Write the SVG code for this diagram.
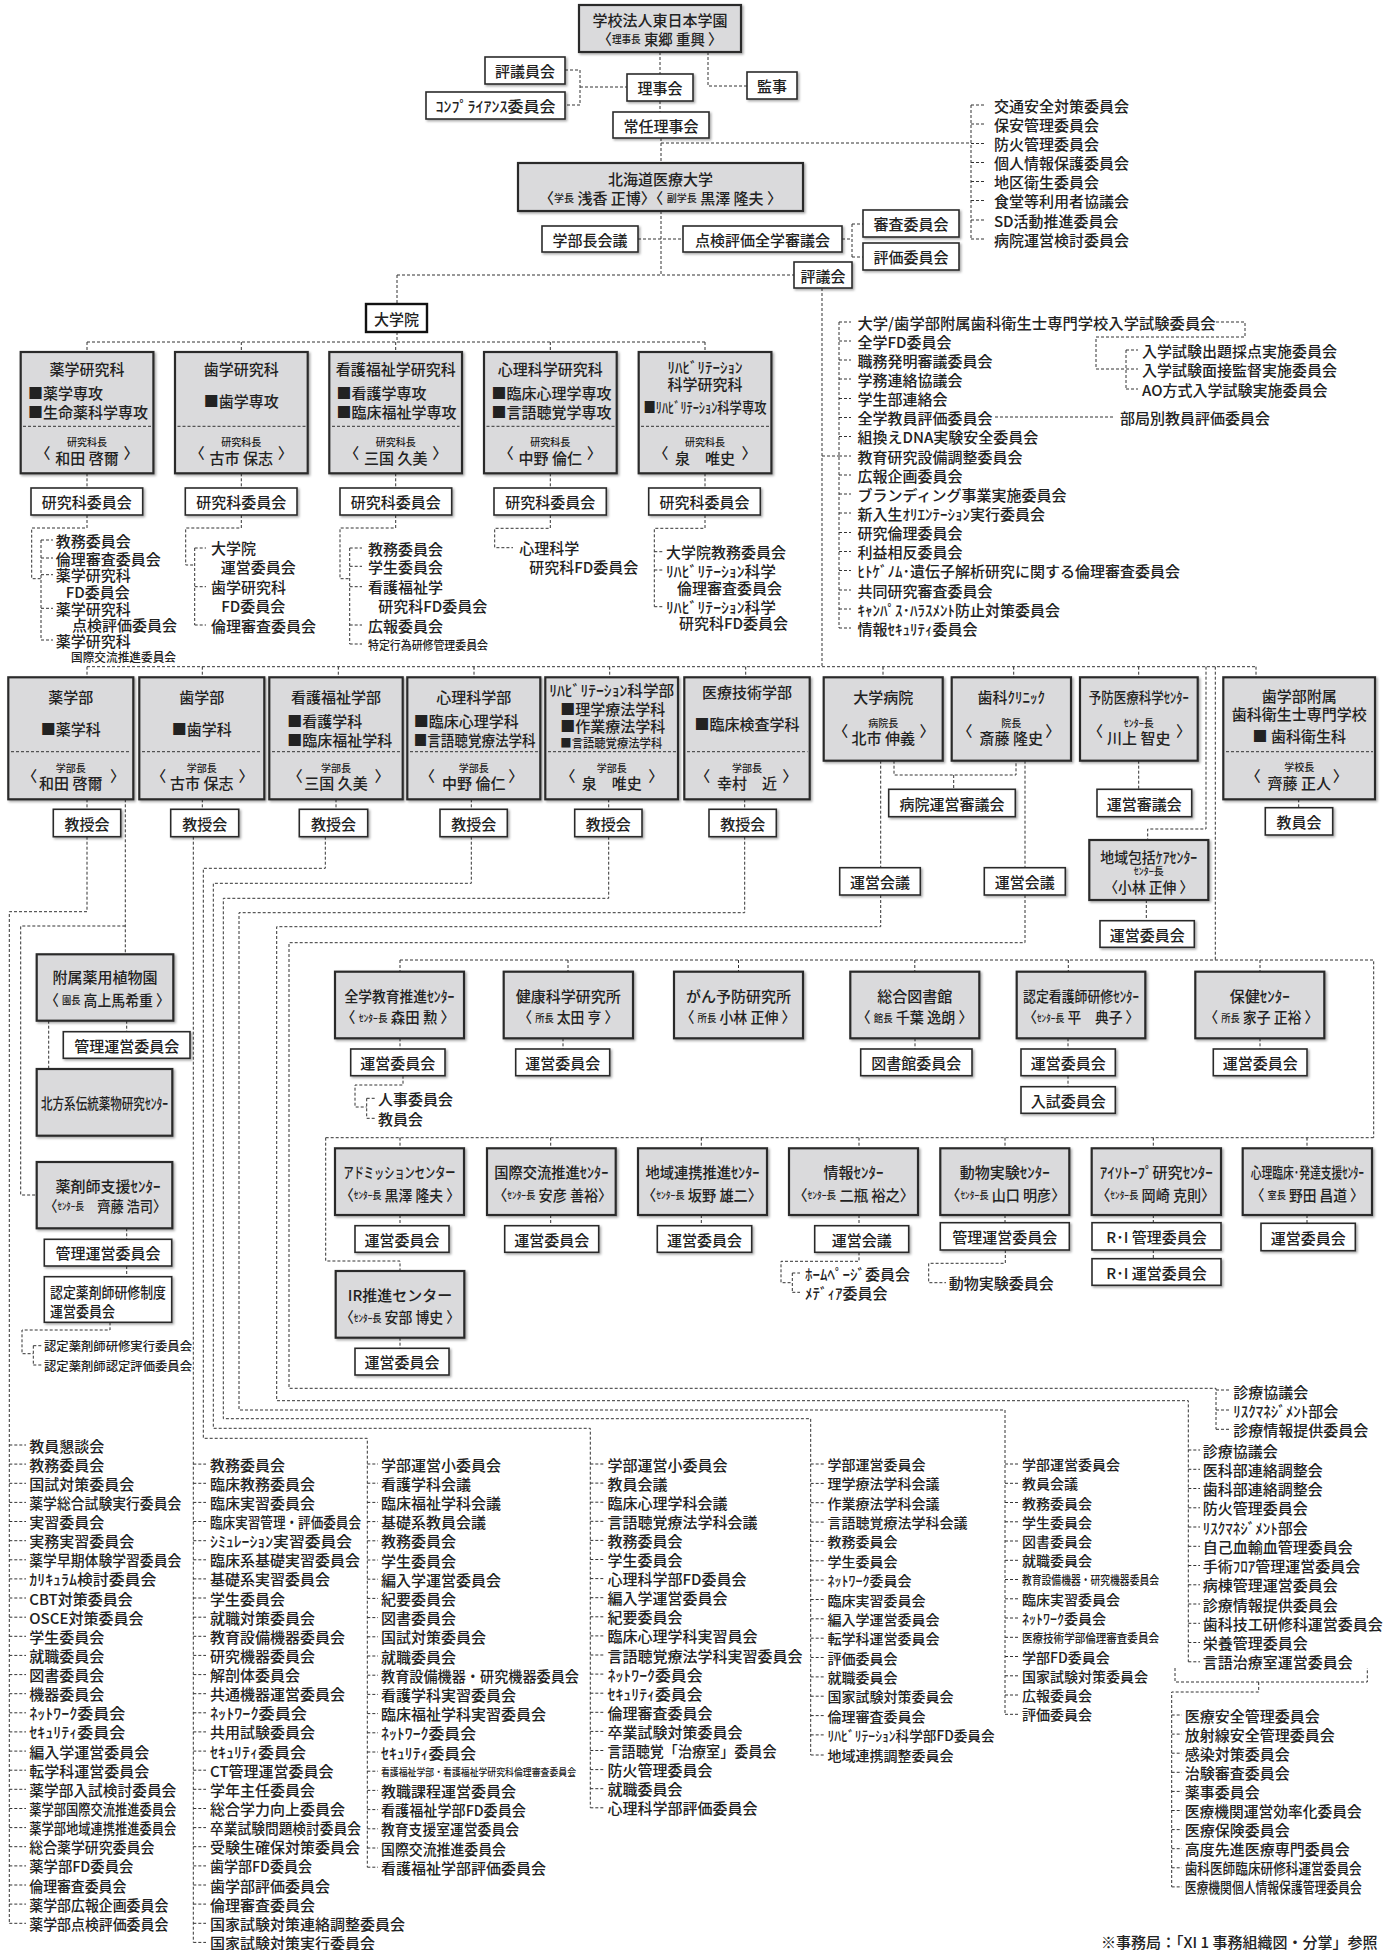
<svg xmlns="http://www.w3.org/2000/svg" width="1389" height="1950" viewBox="0 0 1389 1950">
<defs>
<filter id="sh" x="-10%" y="-10%" width="130%" height="160%">
<feDropShadow dx="1.5" dy="1.5" stdDeviation="1" flood-color="#000" flood-opacity="0.35"/>
</filter>
<style>
text{font-family:"Noto Sans CJK JP","Noto Sans CJK SC",sans-serif;font-size:15px;font-weight:500;fill:#222;dominant-baseline:central}
.m{text-anchor:middle}
.s{font-size:10px}
.k{font-size:14px}
.n{font-size:12px}
.x{font-size:10px}
.gb{fill:#dadadc;stroke:#2b2b2b;stroke-width:2.2;filter:url(#sh)}
.wb{fill:#fff;stroke:#2b2b2b;stroke-width:1.6;filter:url(#sh)}
.bb{fill:#fff;stroke:#111;stroke-width:2.4}
.c{fill:none;stroke:#333;stroke-width:1;stroke-dasharray:3 2}
.dv{stroke:#333;stroke-width:1;stroke-dasharray:3 2}
</style>
</defs>
<rect width="1389" height="1950" fill="#fff"/>

<g id="connectors" class="c">
<path d="M660,52V74M660,101V112M708,52V86H747M565,70H580V105H565M580,87H627M661,138V163M661,143H971M971,105V239"/>
<path d="M971,105H985M971,124H985M971,143.5H985M971,162.5H985M971,181.5H985M971,200.5H985M971,220H985M971,239H985"/>
<path d="M661,211V275M638,239H683M842,239H852M852,224V257M852,224H863M852,257H863M397,275H794M397,275V304M822,288V667M822,456H839M839,322V628"/>
<path d="M839,322H851M839,341H851M839,360H851M839,379H851M839,398.5H851M839,417.5H851M839,436.5H851M839,456H851M839,475H851M839,494H851M839,513H851M839,532.5H851M839,551.5H851M839,570.5H851M839,590H851M839,609H851M839,628H851"/>
<path d="M1216,322H1245V337H1096V369H1126M1126,350V389M1126,350H1138M1126,369H1138M1126,389H1138M995,417H1113"/>
<path d="M397,332V342M87,342H705M87,342V352M241.3,342V352M395.7,342V352M550.3,342V352M705,342V352M87,473.3V488M241.3,473.3V488M395.7,473.3V488M550.3,473.3V488M705,473.3V488"/>
<path d="M87,515V528H31.7V578.7H41M41,540V640M41,540H53M41,558H53M41,574.7H53M41,608.3H53M41,640H53"/>
<path d="M241.3,515V528H185.7V565H194.7M194.7,548V625M194.7,548H206M194.7,586.7H206M194.7,625H206"/>
<path d="M395.7,515V528H340V578.7H349.7M349.7,548V644M349.7,548H362M349.7,566.3H362M349.7,586.7H362M349.7,625H362M349.7,644H362"/>
<path d="M550.3,515V528.3H494.7V547.7H513"/>
<path d="M705,515V528.3H654.3V606.7M654.3,551.7H663M654.3,570H663M654.3,606.7H663"/>
<path d="M87,666.7H1256M87,666.7V677.3M202.3,666.7V677.3M338.3,666.7V677.3M474,666.7V677.3M609.7,666.7V677.3M745.7,666.7V677.3M883,666.7V677.3M1013.7,666.7V677.3M1138.7,666.7V677.3M1256,666.7V677.3M1206,666.7V829H1147.7V840M1215.3,666.7V960"/>
<path d="M87,799.3V809.3M202.3,799.3V809.3M336,799.3V809.3M471.3,799.3V809.3M608.7,799.3V809.3M744.7,799.3V809.3M1298.7,799.3V807.7"/>
<path d="M894,760.7V775H1016V760.7M953.7,775V789.3M1138.7,760.7V789.3M880.7,760.7V867.7M1025,760.7V867.7M1146.3,900V920.7"/>
<path d="M87,836.7V911.7H9.3V1923.3M125.3,799.3V954.3M125.3,926H20.7V1195H36.7"/>
<path d="M9.3,1445H26M9.3,1464.1H26M9.3,1483.3H26M9.3,1502.4H26M9.3,1521.5H26M9.3,1540.7H26M9.3,1559.8H26M9.3,1578.9H26M9.3,1598H26M9.3,1617.2H26M9.3,1636.3H26M9.3,1655.4H26M9.3,1674.6H26M9.3,1693.7H26M9.3,1712.8H26M9.3,1731.9H26M9.3,1751.1H26M9.3,1770.2H26M9.3,1789.3H26M9.3,1808.5H26M9.3,1827.6H26M9.3,1846.7H26M9.3,1865.9H26M9.3,1885H26M9.3,1904.1H26M9.3,1923.3H26"/>
<path d="M193.3,836.7V1942.4M193.3,1464.1H206M193.3,1483.3H206M193.3,1502.4H206M193.3,1521.5H206M193.3,1540.7H206M193.3,1559.8H206M193.3,1578.9H206M193.3,1598H206M193.3,1617.2H206M193.3,1636.3H206M193.3,1655.4H206M193.3,1674.6H206M193.3,1693.7H206M193.3,1712.8H206M193.3,1731.9H206M193.3,1751.1H206M193.3,1770.2H206M193.3,1789.3H206M193.3,1808.5H206M193.3,1827.6H206M193.3,1846.7H206M193.3,1865.9H206M193.3,1885H206M193.3,1904.1H206M193.3,1923.3H206M193.3,1942.4H206"/>
<path d="M325.3,836.7V868.3H203.3V1438.3H367.3V1867.2M367.3,1464H378M367.3,1483.2H378M367.3,1502.4H378M367.3,1521.6H378M367.3,1540.8H378M367.3,1560H378M367.3,1579.2H378M367.3,1598.4H378M367.3,1617.6H378M367.3,1636.8H378M367.3,1656H378M367.3,1675.2H378M367.3,1694.4H378M367.3,1713.6H378M367.3,1732.8H378M367.3,1752H378M367.3,1771.2H378M367.3,1790.4H378M367.3,1809.6H378M367.3,1828.8H378M367.3,1848H378M367.3,1867.2H378"/>
<path d="M471.3,836.7V883.3H213.3V1428.3H590.3V1807.8M590.3,1464H604M590.3,1483.1H604M590.3,1502.2H604M590.3,1521.3H604M590.3,1540.4H604M590.3,1559.5H604M590.3,1578.6H604M590.3,1597.7H604M590.3,1616.8H604M590.3,1635.9H604M590.3,1655H604M590.3,1674.1H604M590.3,1693.2H604M590.3,1712.3H604M590.3,1731.4H604M590.3,1750.5H604M590.3,1769.6H604M590.3,1788.7H604M590.3,1807.8H604"/>
<path d="M608.7,836.7V898.3H223.3V1418.7H810.7V1755M810.7,1464H824M810.7,1483.4H824M810.7,1502.7H824M810.7,1522.1H824M810.7,1541.4H824M810.7,1560.8H824M810.7,1580.1H824M810.7,1599.5H824M810.7,1618.8H824M810.7,1638.2H824M810.7,1657.5H824M810.7,1676.9H824M810.7,1696.2H824M810.7,1715.6H824M810.7,1734.9H824M810.7,1755H824"/>
<path d="M744.7,836.7V912.7H239V1410H1005V1714.3M1005,1464H1018M1005,1483.3H1018M1005,1502.5H1018M1005,1521.8H1018M1005,1541H1018M1005,1560.3H1018M1005,1579.5H1018M1005,1598.8H1018M1005,1618H1018M1005,1637.3H1018M1005,1656.5H1018M1005,1675.8H1018M1005,1695H1018M1005,1714.3H1018"/>
<path d="M880.7,895V926.7H276.7V1400.7H1188.3V1661.8M1188.3,1450H1200M1188.3,1469.3H1200M1188.3,1488.5H1200M1188.3,1507.8H1200M1188.3,1527H1200M1188.3,1546.3H1200M1188.3,1565.5H1200M1188.3,1584.8H1200M1188.3,1604H1200M1188.3,1623.3H1200M1188.3,1642.5H1200M1188.3,1661.8H1200"/>
<path d="M1175,1668V1682H1367.3V1668M1258.7,1682V1692H1171.7V1886.9M1171.7,1715H1182M1171.7,1734.1H1182M1171.7,1753.2H1182M1171.7,1772.3H1182M1171.7,1791.4H1182M1171.7,1810.5H1182M1171.7,1829.6H1182M1171.7,1848.7H1182M1171.7,1867.8H1182M1171.7,1886.9H1182"/>
<path d="M1025,895V942.7H289V1388.3H1216V1429.3M1216,1390H1230M1216,1410H1230M1216,1429.3H1230"/>
<path d="M400,960H1373.7V1137.7M400,960V971.7M568,960V971.7M738.5,960V971.7M914.8,960V971.7M1068.3,960V971.7M1260,960V971.7"/>
<path d="M400,1038.3V1049M563,1038.3V1049M915,1038.3V1049M1068,1038.3V1049M1068,1075.7V1086.7M1260,1038.3V1049M403,1075.7V1085H355V1107H366.7M366.7,1098.3V1118.3M366.7,1098.3H376M366.7,1118.3H376"/>
<path d="M325.7,1137.7H1373.7M325.7,1137.7V1261H400V1271M400,1137.7V1148.3M550.7,1137.7V1148.3M701.3,1137.7V1148.3M859,1137.7V1148.3M1005,1137.7V1148.3M1153.3,1137.7V1148.3M1307,1137.7V1148.3"/>
<path d="M400,1215V1225.7M550.7,1215V1225.7M701.3,1215V1225.7M859,1215V1225.7M1005,1215V1222.7M1153.3,1215V1222.7M1307,1215V1223.3M1153.3,1250V1258.7M400,1337.7V1348.3"/>
<path d="M859,1252.3V1261.3H781V1282.7H792.3M792.3,1273V1292.3M792.3,1273H800M792.3,1292.3H800M1005.3,1250V1263.3H928.7V1282.7H946"/>
<path d="M126.7,1020.7V1031.7M48.7,1020.7V1069M126.7,1228.3V1239.3M126.7,1266V1276.7M110,1322.3V1330H22V1353.7H33.3M33.3,1345.7V1365M33.3,1345.7H42M33.3,1365H42"/>
</g>

<g id="n-gakuen"><rect class="gb" x="579" y="5" width="162" height="47"/><text class="m" x="660" y="19">学校法人東日本学園</text><text class="m" x="660" y="38" textLength="125" lengthAdjust="spacingAndGlyphs">〈<tspan class="s">理事長</tspan> 東郷 重興 〉</text></g>
<g id="n-hyogiin"><rect class="wb" x="485" y="57" width="80" height="27"/><text class="m" x="525" y="70.5">評議員会</text></g>
<g id="n-compliance"><rect class="wb" x="426" y="92" width="139" height="27"/><text class="m" x="495.5" y="105" textLength="120" lengthAdjust="spacingAndGlyphs">ｺﾝﾌﾟﾗｲｱﾝｽ委員会</text></g>
<g id="n-rijikai"><rect class="wb" x="627" y="74" width="66" height="27"/><text class="m" x="660" y="87.5">理事会</text></g>
<g id="n-kanji"><rect class="wb" x="747" y="72" width="50" height="27"/><text class="m" x="772" y="85.5">監事</text></g>
<g id="n-jonin"><rect class="wb" x="613" y="112" width="96" height="26"/><text class="m" x="661" y="125">常任理事会</text></g>
<g id="l-hojin"><text x="994" y="105">交通安全対策委員会</text><text x="994" y="124">保安管理委員会</text><text x="994" y="143.5">防火管理委員会</text><text x="994" y="162.5">個人情報保護委員会</text><text x="994" y="181.5">地区衛生委員会</text><text x="994" y="200.5">食堂等利用者協議会</text><text x="994" y="220">SD活動推進委員会</text><text x="994" y="239">病院運営検討委員会</text></g>
<g id="n-univ"><rect class="gb" x="518" y="163" width="285" height="48"/><text class="m" x="660.5" y="178">北海道医療大学</text><text class="m" x="660.5" y="197" textLength="243" lengthAdjust="spacingAndGlyphs">〈<tspan class="s">学長</tspan> 浅香 正博〉〈 <tspan class="s">副学長</tspan> 黒澤 隆夫 〉</text></g>
<g id="n-gakubucho"><rect class="wb" x="542" y="226" width="96" height="26"/><text class="m" x="590" y="239">学部長会議</text></g>
<g id="n-tenken"><rect class="wb" x="683" y="226" width="159" height="26"/><text class="m" x="762.5" y="239">点検評価全学審議会</text></g>
<g id="n-shinsa"><rect class="wb" x="863" y="210" width="96" height="27"/><text class="m" x="911" y="223.5">審査委員会</text></g>
<g id="n-hyoka"><rect class="wb" x="863" y="243" width="96" height="27"/><text class="m" x="911" y="256.5">評価委員会</text></g>
<g id="n-hyogikai"><rect class="wb" x="794" y="262" width="58" height="26"/><text class="m" x="823" y="275">評議会</text></g>
<g id="n-daigakuin"><rect class="bb" x="366" y="304" width="61" height="28"/><text class="m" x="396.5" y="318">大学院</text></g>

<g id="l-hyogikai">
<text x="857.5" y="322" textLength="358" lengthAdjust="spacingAndGlyphs">大学/歯学部附属歯科衛生士専門学校入学試験委員会</text>
<text x="857.5" y="341">全学FD委員会</text><text x="857.5" y="360">職務発明審議委員会</text><text x="857.5" y="379">学務連絡協議会</text><text x="857.5" y="398.5">学生部連絡会</text><text x="857.5" y="417.5">全学教員評価委員会</text><text x="857.5" y="436.5">組換えDNA実験安全委員会</text><text x="857.5" y="456">教育研究設備調整委員会</text><text x="857.5" y="475">広報企画委員会</text><text x="857.5" y="494">ブランディング事業実施委員会</text><text x="857.5" y="513">新入生ｵﾘｴﾝﾃｰｼｮﾝ実行委員会</text><text x="857.5" y="532.5">研究倫理委員会</text><text x="857.5" y="551.5">利益相反委員会</text><text x="857.5" y="570.5">ﾋﾄｹﾞﾉﾑ･遺伝子解析研究に関する倫理審査委員会</text><text x="857.5" y="590">共同研究審査委員会</text><text x="857.5" y="609">ｷｬﾝﾊﾟｽ･ﾊﾗｽﾒﾝﾄ防止対策委員会</text><text x="857.5" y="628">情報ｾｷｭﾘﾃｨ委員会</text>
<text x="1142" y="350">入学試験出題採点実施委員会</text><text x="1142" y="369">入学試験面接監督実施委員会</text><text x="1142" y="389">AO方式入学試験実施委員会</text>
<text x="1120" y="417">部局別教員評価委員会</text>
</g>

<g id="n-gs-yaku"><rect class="gb" x="20.7" y="352" width="132.7" height="121.3"/><line class="dv" x1="23" y1="426.3" x2="151" y2="426.3"/><text class="m" x="87" y="368.5">薬学研究科</text><text x="28" y="392.5">■薬学専攻</text><text x="28" y="411.5">■生命薬科学専攻</text><text class="m s" x="87" y="441.5">研究科長</text><text class="m" x="87" y="457">和田 啓爾</text><text class="m" x="43" y="452">〈</text><text class="m" x="131" y="452">〉</text></g>
<g id="n-gs-shi"><rect class="gb" x="175" y="352" width="132.7" height="121.3"/><line class="dv" x1="177.5" y1="426.3" x2="305.5" y2="426.3"/><text class="m" x="241.3" y="368.5">歯学研究科</text><text class="m" x="241.3" y="400">■歯学専攻</text><text class="m s" x="241.3" y="441.5">研究科長</text><text class="m" x="241.3" y="457">古市 保志</text><text class="m" x="197.3" y="452">〈</text><text class="m" x="285.3" y="452">〉</text></g>
<g id="n-gs-kango"><rect class="gb" x="329.3" y="352" width="132.7" height="121.3"/><line class="dv" x1="332" y1="426.3" x2="459.5" y2="426.3"/><text class="m" x="395.7" y="368.5">看護福祉学研究科</text><text x="336.5" y="392.5">■看護学専攻</text><text x="336.5" y="411.5">■臨床福祉学専攻</text><text class="m s" x="395.7" y="441.5">研究科長</text><text class="m" x="395.7" y="457">三国 久美</text><text class="m" x="351.7" y="452">〈</text><text class="m" x="439.7" y="452">〉</text></g>
<g id="n-gs-shinri"><rect class="gb" x="484" y="352" width="132.7" height="121.3"/><line class="dv" x1="486.5" y1="426.3" x2="614.5" y2="426.3"/><text class="m" x="550.3" y="368.5">心理科学研究科</text><text x="491.5" y="392.5">■臨床心理学専攻</text><text x="491.5" y="411.5">■言語聴覚学専攻</text><text class="m s" x="550.3" y="441.5">研究科長</text><text class="m" x="550.3" y="457">中野 倫仁</text><text class="m" x="506.3" y="452">〈</text><text class="m" x="594.3" y="452">〉</text></g>
<g id="n-gs-reha"><rect class="gb" x="638.7" y="352" width="132.7" height="121.3"/><line class="dv" x1="641" y1="426.3" x2="769" y2="426.3"/><text class="m" x="705" y="366.5">ﾘﾊﾋﾞﾘﾃｰｼｮﾝ</text><text class="m" x="705" y="383">科学研究科</text><text class="m" x="705" y="406" textLength="123" lengthAdjust="spacingAndGlyphs">■ﾘﾊﾋﾞﾘﾃｰｼｮﾝ科学専攻</text><text class="m s" x="705" y="441.5">研究科長</text><text class="m" x="705" y="457">泉　唯史</text><text class="m" x="661" y="452">〈</text><text class="m" x="749" y="452">〉</text></g>

<g id="n-gsc-1"><rect class="wb" x="31" y="488" width="111.7" height="27"/><text class="m" x="86.8" y="501.5">研究科委員会</text></g>
<g id="n-gsc-2"><rect class="wb" x="185.3" y="488" width="111.7" height="27"/><text class="m" x="241.2" y="501.5">研究科委員会</text></g>
<g id="n-gsc-3"><rect class="wb" x="340" y="488" width="111.7" height="27"/><text class="m" x="395.8" y="501.5">研究科委員会</text></g>
<g id="n-gsc-4"><rect class="wb" x="494" y="488" width="112.3" height="27"/><text class="m" x="550.2" y="501.5">研究科委員会</text></g>
<g id="n-gsc-5"><rect class="wb" x="648.7" y="488" width="111.6" height="27"/><text class="m" x="704.5" y="501.5">研究科委員会</text></g>

<g id="l-gs-yaku"><text x="55.7" y="540">教務委員会</text><text x="55.7" y="558">倫理審査委員会</text><text x="55.7" y="574.7">薬学研究科</text><text x="65.7" y="591.7">FD委員会</text><text x="55.7" y="608.3">薬学研究科</text><text x="72" y="624.3">点検評価委員会</text><text x="55.7" y="640">薬学研究科</text><text class="n" x="71" y="656" textLength="105" lengthAdjust="spacingAndGlyphs">国際交流推進委員会</text></g>
<g id="l-gs-shi"><text x="211" y="547.7">大学院</text><text x="220.7" y="566.3">運営委員会</text><text x="211" y="586.7">歯学研究科</text><text x="221.3" y="605">FD委員会</text><text x="211" y="625">倫理審査委員会</text></g>
<g id="l-gs-kango"><text x="368" y="548">教務委員会</text><text x="368" y="566.3">学生委員会</text><text x="368" y="586.7">看護福祉学</text><text x="378.3" y="605">研究科FD委員会</text><text x="368" y="625">広報委員会</text><text class="n" x="368" y="644" textLength="120" lengthAdjust="spacingAndGlyphs">特定行為研修管理委員会</text></g>
<g id="l-gs-shinri"><text x="519.3" y="547.7">心理科学</text><text x="529.3" y="566.3">研究科FD委員会</text></g>
<g id="l-gs-reha"><text x="666" y="551.7">大学院教務委員会</text><text x="666" y="570" textLength="110" lengthAdjust="spacingAndGlyphs">ﾘﾊﾋﾞﾘﾃｰｼｮﾝ科学</text><text x="677" y="587.7">倫理審査委員会</text><text x="666" y="606.7" textLength="110" lengthAdjust="spacingAndGlyphs">ﾘﾊﾋﾞﾘﾃｰｼｮﾝ科学</text><text x="679" y="622.3">研究科FD委員会</text></g>

<g id="n-f-yaku"><rect class="gb" x="8.3" y="677.3" width="125" height="122"/><line class="dv" x1="11" y1="751.7" x2="131" y2="751.7"/><text class="m" x="70.8" y="696.7">薬学部</text><text class="m" x="70.8" y="728.3">■薬学科</text><text class="m s" x="70.8" y="767.3">学部長</text><text class="m" x="70.8" y="782.3">和田 啓爾</text><text class="m" x="29.7" y="775">〈</text><text class="m" x="117.5" y="775">〉</text></g>
<g id="n-f-shi"><rect class="gb" x="139.3" y="677.3" width="125" height="122"/><line class="dv" x1="142" y1="751.7" x2="262" y2="751.7"/><text class="m" x="201.8" y="696.7">歯学部</text><text class="m" x="201.8" y="728.3">■歯学科</text><text class="m s" x="201.8" y="767.3">学部長</text><text class="m" x="201.8" y="782.3">古市 保志</text><text class="m" x="158.7" y="775">〈</text><text class="m" x="246" y="775">〉</text></g>
<g id="n-f-kango"><rect class="gb" x="269.3" y="677.3" width="133.4" height="122"/><line class="dv" x1="272" y1="751.7" x2="400.5" y2="751.7"/><text class="m" x="336" y="696.7">看護福祉学部</text><text x="287.3" y="720">■看護学科</text><text x="287.3" y="739.3">■臨床福祉学科</text><text class="m s" x="336" y="767.3">学部長</text><text class="m" x="336" y="782.3">三国 久美</text><text class="m" x="295.3" y="775">〈</text><text class="m" x="382" y="775">〉</text></g>
<g id="n-f-shinri"><rect class="gb" x="407.3" y="677.3" width="133" height="122"/><line class="dv" x1="410" y1="751.7" x2="538" y2="751.7"/><text class="m" x="473.8" y="696.7">心理科学部</text><text x="413.7" y="720">■臨床心理学科</text><text x="413.7" y="739.3" textLength="122" lengthAdjust="spacingAndGlyphs">■言語聴覚療法学科</text><text class="m s" x="473.8" y="767.3">学部長</text><text class="m" x="473.8" y="782.3">中野 倫仁</text><text class="m" x="427.5" y="775">〈</text><text class="m" x="515.7" y="775">〉</text></g>
<g id="n-f-reha"><rect class="gb" x="545.3" y="677.3" width="132.7" height="122"/><line class="dv" x1="548" y1="751.7" x2="676" y2="751.7"/><text class="m" x="611.7" y="689" textLength="125" lengthAdjust="spacingAndGlyphs">ﾘﾊﾋﾞﾘﾃｰｼｮﾝ科学部</text><text x="560.3" y="708.3">■理学療法学科</text><text x="560.3" y="725.7">■作業療法学科</text><text class="n" x="560.3" y="742.7" textLength="102" lengthAdjust="spacingAndGlyphs">■言語聴覚療法学科</text><text class="m s" x="611.7" y="767.3">学部長</text><text class="m" x="611.7" y="782.3">泉　唯史</text><text class="m" x="568" y="775">〈</text><text class="m" x="655.7" y="775">〉</text></g>
<g id="n-f-iryo"><rect class="gb" x="684.3" y="677.3" width="125.4" height="122"/><line class="dv" x1="687" y1="751.7" x2="807.5" y2="751.7"/><text class="m" x="747" y="691.7">医療技術学部</text><text class="m" x="747" y="723.3">■臨床検査学科</text><text class="m s" x="747" y="767.3">学部長</text><text class="m" x="747" y="782.3">幸村　近</text><text class="m" x="702.7" y="775">〈</text><text class="m" x="789.7" y="775">〉</text></g>
<g id="n-hospital"><rect class="gb" x="823.7" y="677.3" width="119" height="83.4"/><text class="m" x="883.2" y="696.7">大学病院</text><text class="m s" x="883.2" y="722.3">病院長</text><text class="m" x="883.2" y="737.3">北市 伸義</text><text class="m" x="840.7" y="730">〈</text><text class="m" x="927" y="730">〉</text></g>
<g id="n-clinic"><rect class="gb" x="951.7" y="677.3" width="119.3" height="83.4"/><text class="m" x="1011.3" y="696.7">歯科ｸﾘﾆｯｸ</text><text class="m s" x="1011.3" y="722.3">院長</text><text class="m" x="1011.3" y="737.3">斎藤 隆史</text><text class="m" x="965" y="730">〈</text><text class="m" x="1052.7" y="730">〉</text></g>
<g id="n-yobo"><rect class="gb" x="1080" y="677.3" width="117.7" height="83.4"/><text class="m" x="1138.8" y="696.7" textLength="100" lengthAdjust="spacingAndGlyphs">予防医療科学ｾﾝﾀｰ</text><text class="m s" x="1138.8" y="722.3">ｾﾝﾀｰ長</text><text class="m" x="1138.8" y="737.3">川上 智史</text><text class="m" x="1095.5" y="730">〈</text><text class="m" x="1183.5" y="730">〉</text></g>
<g id="n-eiseishi"><rect class="gb" x="1223.3" y="677.3" width="151.7" height="122"/><line class="dv" x1="1226" y1="751.7" x2="1373" y2="751.7"/><text class="m" x="1299.2" y="695.5">歯学部附属</text><text class="m" x="1299.2" y="713">歯科衛生士専門学校</text><text class="m" x="1299.2" y="735">■ 歯科衛生科</text><text class="m s" x="1299.2" y="766.7">学校長</text><text class="m" x="1299.2" y="782.3">齊藤 正人</text><text class="m" x="1253.3" y="775">〈</text><text class="m" x="1340.3" y="775">〉</text></g>

<g id="n-kyoju-1"><rect class="wb" x="53.3" y="809.3" width="67.4" height="27.4"/><text class="m" x="87" y="823">教授会</text></g>
<g id="n-kyoju-2"><rect class="wb" x="170.7" y="809.3" width="68" height="27.4"/><text class="m" x="204.7" y="823">教授会</text></g>
<g id="n-kyoju-3"><rect class="wb" x="299.3" y="809.3" width="68.4" height="27.4"/><text class="m" x="333.5" y="823">教授会</text></g>
<g id="n-kyoju-4"><rect class="wb" x="440" y="809.3" width="67.3" height="27.4"/><text class="m" x="473.7" y="823">教授会</text></g>
<g id="n-kyoju-5"><rect class="wb" x="574.7" y="809.3" width="67.3" height="27.4"/><text class="m" x="608.3" y="823">教授会</text></g>
<g id="n-kyoju-6"><rect class="wb" x="709" y="809.3" width="67.3" height="27.4"/><text class="m" x="742.7" y="823">教授会</text></g>
<g id="n-kyoin"><rect class="wb" x="1265.3" y="807.7" width="67.4" height="27.3"/><text class="m" x="1299" y="821.3">教員会</text></g>
<g id="n-byoin-shingi"><rect class="wb" x="888.7" y="789.3" width="126.6" height="27.4"/><text class="m" x="952" y="803">病院運営審議会</text></g>
<g id="n-yobo-shingi"><rect class="wb" x="1097" y="789.3" width="94.7" height="27.4"/><text class="m" x="1144.3" y="803">運営審議会</text></g>
<g id="n-hosp-kaigi"><rect class="wb" x="839.7" y="867.7" width="80.6" height="27.3"/><text class="m" x="880" y="881.3">運営会議</text></g>
<g id="n-clinic-kaigi"><rect class="wb" x="984.3" y="867.7" width="81" height="27.3"/><text class="m" x="1024.8" y="881.3">運営会議</text></g>
<g id="n-chiiki"><rect class="gb" x="1089.3" y="840" width="119" height="60"/><text class="m" x="1148.8" y="856" textLength="97" lengthAdjust="spacingAndGlyphs">地域包括ｹｱｾﾝﾀｰ</text><text class="m s" x="1148.8" y="870.7">ｾﾝﾀｰ長</text><text class="m" x="1148.8" y="886.5" textLength="89" lengthAdjust="spacingAndGlyphs">〈小林 正伸 〉</text></g>
<g id="n-chiiki-un"><rect class="wb" x="1100" y="920.7" width="94.3" height="26.6"/><text class="m" x="1147.2" y="934">運営委員会</text></g>

<g id="n-shokubutsu"><rect class="gb" x="36.7" y="954.3" width="136.6" height="66.4"/><text class="m" x="105" y="976.7">附属薬用植物園</text><text class="m" x="107.5" y="999" textLength="125" lengthAdjust="spacingAndGlyphs">〈 <tspan class="s">園長</tspan> 高上馬希重 〉</text></g>
<g id="n-shoku-un"><rect class="wb" x="63.3" y="1031.7" width="126.7" height="26.6"/><text class="m" x="126.7" y="1045">管理運営委員会</text></g>
<g id="n-hoppo"><rect class="gb" x="36.7" y="1069" width="135.6" height="66.7"/><text class="m" x="104.5" y="1102.7" textLength="127" lengthAdjust="spacingAndGlyphs">北方系伝統薬物研究ｾﾝﾀｰ</text></g>
<g id="n-yakuzaishi"><rect class="gb" x="36.7" y="1162" width="135.6" height="66.3"/><text class="m" x="108" y="1185.7">薬剤師支援ｾﾝﾀｰ</text><text class="m" x="105.3" y="1205" textLength="122" lengthAdjust="spacingAndGlyphs">〈<tspan class="s">ｾﾝﾀｰ長</tspan>　齊藤 浩司〉</text></g>
<g id="n-yakuzai-un"><rect class="wb" x="44.3" y="1239.3" width="127.4" height="26.7"/><text class="m" x="108" y="1252.7">管理運営委員会</text></g>
<g id="n-nintei-seido"><rect class="wb" x="44.3" y="1276.7" width="127.4" height="45.6"/><text x="50" y="1291.7" textLength="116" lengthAdjust="spacingAndGlyphs">認定薬剤師研修制度</text><text x="50" y="1310" textLength="65" lengthAdjust="spacingAndGlyphs">運営委員会</text></g>
<g id="l-nintei"><text class="n" x="44" y="1345.7" textLength="148" lengthAdjust="spacingAndGlyphs">認定薬剤師研修実行委員会</text><text class="n" x="44" y="1365" textLength="148" lengthAdjust="spacingAndGlyphs">認定薬剤師認定評価委員会</text></g>

<g id="n-zengaku"><rect class="gb" x="335" y="971.7" width="129" height="66.6"/><text class="m" x="399.5" y="995" textLength="110" lengthAdjust="spacingAndGlyphs">全学教育推進ｾﾝﾀｰ</text><text class="m" x="398" y="1016.7" textLength="114" lengthAdjust="spacingAndGlyphs">〈 <tspan class="s">ｾﾝﾀｰ長</tspan> 森田 勲 〉</text></g>
<g id="n-kenko"><rect class="gb" x="503.7" y="971.7" width="129.3" height="66.6"/><text class="m" x="568.3" y="995">健康科学研究所</text><text class="m" x="568.3" y="1016.7" textLength="100" lengthAdjust="spacingAndGlyphs">〈 <tspan class="s">所長</tspan> 太田 亨 〉</text></g>
<g id="n-gan"><rect class="gb" x="674" y="971.7" width="129" height="66.6"/><text class="m" x="738.5" y="995">がん予防研究所</text><text class="m" x="738" y="1016.7" textLength="115" lengthAdjust="spacingAndGlyphs">〈 <tspan class="s">所長</tspan> 小林 正伸 〉</text></g>
<g id="n-tosho"><rect class="gb" x="850.3" y="971.7" width="129" height="66.6"/><text class="m" x="914.8" y="995">総合図書館</text><text class="m" x="914.5" y="1016.7" textLength="116" lengthAdjust="spacingAndGlyphs">〈 <tspan class="s">館長</tspan> 千葉 逸朗 〉</text></g>
<g id="n-ninteikango"><rect class="gb" x="1016.7" y="971.7" width="128.6" height="66.6"/><text class="m" x="1081" y="995" textLength="116" lengthAdjust="spacingAndGlyphs">認定看護師研修ｾﾝﾀｰ</text><text class="m" x="1081.3" y="1016.7" textLength="116" lengthAdjust="spacingAndGlyphs">〈<tspan class="s">ｾﾝﾀｰ長</tspan> 平　典子 〉</text></g>
<g id="n-hoken"><rect class="gb" x="1195.3" y="971.7" width="129" height="66.6"/><text class="m" x="1259.8" y="995">保健ｾﾝﾀｰ</text><text class="m" x="1261.3" y="1016.7" textLength="114" lengthAdjust="spacingAndGlyphs">〈 <tspan class="s">所長</tspan> 家子 正裕 〉</text></g>

<g id="n-zengaku-un"><rect class="wb" x="350.7" y="1049" width="94.3" height="26.7"/><text class="m" x="397.8" y="1062.3">運営委員会</text></g>
<g id="n-kenko-un"><rect class="wb" x="515.7" y="1049" width="94" height="26.7"/><text class="m" x="562.7" y="1062.3">運営委員会</text></g>
<g id="n-tosho-un"><rect class="wb" x="860.7" y="1049" width="111.3" height="26.7"/><text class="m" x="916.3" y="1062.3">図書館委員会</text></g>
<g id="n-nintei-un"><rect class="wb" x="1021" y="1049" width="94.3" height="26.7"/><text class="m" x="1068.2" y="1062.3">運営委員会</text></g>
<g id="n-nyushi"><rect class="wb" x="1021" y="1086.7" width="94.3" height="26.6"/><text class="m" x="1068.2" y="1100">入試委員会</text></g>
<g id="n-hoken-un"><rect class="wb" x="1213.3" y="1049" width="93.7" height="26.7"/><text class="m" x="1260.2" y="1062.3">運営委員会</text></g>
<g id="l-zengaku"><text x="378" y="1098.3">人事委員会</text><text x="378" y="1118.3">教員会</text></g>

<g id="n-admission"><rect class="gb" x="335" y="1148.3" width="129" height="66.7"/><text class="m" x="399.5" y="1171.7" textLength="112" lengthAdjust="spacingAndGlyphs">アドミッションセンター</text><text class="m" x="400" y="1194.3" textLength="120" lengthAdjust="spacingAndGlyphs">〈<tspan class="s">ｾﾝﾀｰ長</tspan> 黒澤 隆夫 〉</text></g>
<g id="n-kokusai"><rect class="gb" x="487" y="1148.3" width="128.7" height="66.7"/><text class="m" x="551.3" y="1171.7" textLength="114" lengthAdjust="spacingAndGlyphs">国際交流推進ｾﾝﾀｰ</text><text class="m" x="552.7" y="1194.3" textLength="119" lengthAdjust="spacingAndGlyphs">〈<tspan class="s">ｾﾝﾀｰ長</tspan> 安彦 善裕〉</text></g>
<g id="n-chiikirenkei"><rect class="gb" x="638" y="1148.3" width="129" height="66.7"/><text class="m" x="702.5" y="1171.7" textLength="114" lengthAdjust="spacingAndGlyphs">地域連携推進ｾﾝﾀｰ</text><text class="m" x="702" y="1194.3" textLength="120" lengthAdjust="spacingAndGlyphs">〈<tspan class="s">ｾﾝﾀｰ長</tspan> 坂野 雄二〉</text></g>
<g id="n-joho"><rect class="gb" x="789" y="1148.3" width="129" height="66.7"/><text class="m" x="853.5" y="1171.7">情報ｾﾝﾀｰ</text><text class="m" x="853.7" y="1194.3" textLength="121" lengthAdjust="spacingAndGlyphs">〈<tspan class="s">ｾﾝﾀｰ長</tspan> 二瓶 裕之〉</text></g>
<g id="n-dobutsu"><rect class="gb" x="940.3" y="1148.3" width="129" height="66.7"/><text class="m" x="1004.8" y="1171.7">動物実験ｾﾝﾀｰ</text><text class="m" x="1005.8" y="1194.3" textLength="119" lengthAdjust="spacingAndGlyphs">〈<tspan class="s">ｾﾝﾀｰ長</tspan> 山口 明彦〉</text></g>
<g id="n-isotope"><rect class="gb" x="1091.7" y="1148.3" width="129.3" height="66.7"/><text class="m" x="1156.3" y="1171.7" textLength="113" lengthAdjust="spacingAndGlyphs">ｱｲｿﾄｰﾌﾟ研究ｾﾝﾀｰ</text><text class="m" x="1155.7" y="1194.3" textLength="119" lengthAdjust="spacingAndGlyphs">〈<tspan class="s">ｾﾝﾀｰ長</tspan> 岡崎 克則〉</text></g>
<g id="n-shinririnsho"><rect class="gb" x="1242.7" y="1148.3" width="129.3" height="66.7"/><text class="m" x="1307.3" y="1171.7" textLength="113" lengthAdjust="spacingAndGlyphs">心理臨床･発達支援ｾﾝﾀｰ</text><text class="m" x="1307.3" y="1194.3" textLength="113" lengthAdjust="spacingAndGlyphs">〈 <tspan class="s">室長</tspan> 野田 昌道 〉</text></g>

<g id="n-admission-un"><rect class="wb" x="355" y="1225.7" width="94" height="26.6"/><text class="m" x="402" y="1239">運営委員会</text></g>
<g id="n-kokusai-un"><rect class="wb" x="504.7" y="1225.7" width="94" height="26.6"/><text class="m" x="551.7" y="1239">運営委員会</text></g>
<g id="n-chiikirenkei-un"><rect class="wb" x="657.3" y="1225.7" width="94.4" height="26.6"/><text class="m" x="704.5" y="1239">運営委員会</text></g>
<g id="n-joho-kaigi"><rect class="wb" x="814.7" y="1225.7" width="94" height="26.6"/><text class="m" x="861.7" y="1239">運営会議</text></g>
<g id="n-dobutsu-un"><rect class="wb" x="940.3" y="1222.7" width="129" height="27.3"/><text class="m" x="1004.8" y="1236.3">管理運営委員会</text></g>
<g id="n-ri-kanri"><rect class="wb" x="1092" y="1222.7" width="129" height="27.3"/><text class="m" x="1156.5" y="1236.3">R･I 管理委員会</text></g>
<g id="n-ri-unei"><rect class="wb" x="1092" y="1258.7" width="129" height="26.6"/><text class="m" x="1156.5" y="1272">R･I 運営委員会</text></g>
<g id="n-shinririnsho-un"><rect class="wb" x="1261" y="1223.3" width="94.3" height="27.4"/><text class="m" x="1308.2" y="1237">運営委員会</text></g>
<g id="l-joho"><text x="805" y="1273.3">ﾎｰﾑﾍﾟｰｼﾞ委員会</text><text x="805" y="1292.3">ﾒﾃﾞｨｱ委員会</text></g>
<g id="l-dobutsu"><text x="948.7" y="1282.7">動物実験委員会</text></g>
<g id="n-ir"><rect class="gb" x="335.7" y="1271" width="128.6" height="66.7"/><text class="m" x="400" y="1294.3">IR推進センター</text><text class="m" x="400" y="1316.7" textLength="120" lengthAdjust="spacingAndGlyphs">〈<tspan class="s">ｾﾝﾀｰ長</tspan> 安部 博史 〉</text></g>
<g id="n-ir-un"><rect class="wb" x="355" y="1348.3" width="94" height="26.7"/><text class="m" x="402" y="1361.7">運営委員会</text></g>

<g id="l-yaku">
<text x="29.3" y="1445">教員懇談会</text><text x="29.3" y="1464.1">教務委員会</text><text x="29.3" y="1483.3">国試対策委員会</text><text x="29.3" y="1502.4" textLength="152" lengthAdjust="spacingAndGlyphs">薬学総合試験実行委員会</text><text x="29.3" y="1521.5">実習委員会</text><text x="29.3" y="1540.7">実務実習委員会</text><text x="29.3" y="1559.8" textLength="152" lengthAdjust="spacingAndGlyphs">薬学早期体験学習委員会</text><text x="29.3" y="1578.9" textLength="127" lengthAdjust="spacingAndGlyphs">ｶﾘｷｭﾗﾑ検討委員会</text><text x="29.3" y="1598">CBT対策委員会</text><text x="29.3" y="1617.2">OSCE対策委員会</text><text x="29.3" y="1636.3">学生委員会</text><text x="29.3" y="1655.4">就職委員会</text><text x="29.3" y="1674.6">図書委員会</text><text x="29.3" y="1693.7">機器委員会</text><text x="29.3" y="1712.8" textLength="96" lengthAdjust="spacingAndGlyphs">ﾈｯﾄﾜｰｸ委員会</text><text x="29.3" y="1731.9" textLength="96" lengthAdjust="spacingAndGlyphs">ｾｷｭﾘﾃｨ委員会</text><text x="29.3" y="1751.1">編入学運営委員会</text><text x="29.3" y="1770.2">転学科運営委員会</text><text x="29.3" y="1789.3" textLength="147" lengthAdjust="spacingAndGlyphs">薬学部入試検討委員会</text><text x="29.3" y="1808.5" textLength="147" lengthAdjust="spacingAndGlyphs">薬学部国際交流推進委員会</text><text x="29.3" y="1827.6" textLength="147" lengthAdjust="spacingAndGlyphs">薬学部地域連携推進委員会</text><text x="29.3" y="1846.7" textLength="125" lengthAdjust="spacingAndGlyphs">総合薬学研究委員会</text><text x="29.3" y="1865.9" textLength="104" lengthAdjust="spacingAndGlyphs">薬学部FD委員会</text><text x="29.3" y="1885" textLength="97" lengthAdjust="spacingAndGlyphs">倫理審査委員会</text><text x="29.3" y="1904.1" textLength="139" lengthAdjust="spacingAndGlyphs">薬学部広報企画委員会</text><text x="29.3" y="1923.3" textLength="139" lengthAdjust="spacingAndGlyphs">薬学部点検評価委員会</text>
</g>
<g id="l-shi">
<text x="210" y="1464.1">教務委員会</text><text x="210" y="1483.3">臨床教務委員会</text><text x="210" y="1502.4">臨床実習委員会</text><text x="210" y="1521.5" textLength="151" lengthAdjust="spacingAndGlyphs">臨床実習管理・評価委員会</text><text x="210" y="1540.7" textLength="142" lengthAdjust="spacingAndGlyphs">ｼﾐｭﾚｰｼｮﾝ実習委員会</text><text x="210" y="1559.8">臨床系基礎実習委員会</text><text x="210" y="1578.9">基礎系実習委員会</text><text x="210" y="1598">学生委員会</text><text x="210" y="1617.2">就職対策委員会</text><text x="210" y="1636.3">教育設備機器委員会</text><text x="210" y="1655.4">研究機器委員会</text><text x="210" y="1674.6">解剖体委員会</text><text x="210" y="1693.7">共通機器運営委員会</text><text x="210" y="1712.8" textLength="97" lengthAdjust="spacingAndGlyphs">ﾈｯﾄﾜｰｸ委員会</text><text x="210" y="1731.9">共用試験委員会</text><text x="210" y="1751.1" textLength="96" lengthAdjust="spacingAndGlyphs">ｾｷｭﾘﾃｨ委員会</text><text x="210" y="1770.2">CT管理運営委員会</text><text x="210" y="1789.3">学年主任委員会</text><text x="210" y="1808.5">総合学力向上委員会</text><text x="210" y="1827.6" textLength="151" lengthAdjust="spacingAndGlyphs">卒業試験問題検討委員会</text><text x="210" y="1846.7">受験生確保対策委員会</text><text x="210" y="1865.9" textLength="102" lengthAdjust="spacingAndGlyphs">歯学部FD委員会</text><text x="210" y="1885">歯学部評価委員会</text><text x="210" y="1904.1">倫理審査委員会</text><text x="210" y="1923.3">国家試験対策連絡調整委員会</text><text x="210" y="1942">国家試験対策実行委員会</text>
</g>
<g id="l-kango">
<text x="381" y="1464">学部運営小委員会</text><text x="381" y="1483.2">看護学科会議</text><text x="381" y="1502.4">臨床福祉学科会議</text><text x="381" y="1521.6">基礎系教員会議</text><text x="381" y="1540.8">教務委員会</text><text x="381" y="1560">学生委員会</text><text x="381" y="1579.2">編入学運営委員会</text><text x="381" y="1598.4">紀要委員会</text><text x="381" y="1617.6">図書委員会</text><text x="381" y="1636.8">国試対策委員会</text><text x="381" y="1656">就職委員会</text><text x="381" y="1675.2" textLength="198" lengthAdjust="spacingAndGlyphs">教育設備機器・研究機器委員会</text><text x="381" y="1694.4">看護学科実習委員会</text><text x="381" y="1713.6">臨床福祉学科実習委員会</text><text x="381" y="1732.8" textLength="95" lengthAdjust="spacingAndGlyphs">ﾈｯﾄﾜｰｸ委員会</text><text x="381" y="1752" textLength="95" lengthAdjust="spacingAndGlyphs">ｾｷｭﾘﾃｨ委員会</text><text class="x" x="381" y="1771.2" textLength="195" lengthAdjust="spacingAndGlyphs">看護福祉学部・看護福祉学研究科倫理審査委員会</text><text x="381" y="1790.4">教職課程運営委員会</text><text x="381" y="1809.6" textLength="145" lengthAdjust="spacingAndGlyphs">看護福祉学部FD委員会</text><text x="381" y="1828.8" textLength="138" lengthAdjust="spacingAndGlyphs">教育支援室運営委員会</text><text x="381" y="1848" textLength="125" lengthAdjust="spacingAndGlyphs">国際交流推進委員会</text><text x="381" y="1867.2">看護福祉学部評価委員会</text>
</g>
<g id="l-shinri">
<text x="607.5" y="1464">学部運営小委員会</text><text x="607.5" y="1483.1">教員会議</text><text x="607.5" y="1502.2">臨床心理学科会議</text><text x="607.5" y="1521.3">言語聴覚療法学科会議</text><text x="607.5" y="1540.4">教務委員会</text><text x="607.5" y="1559.5">学生委員会</text><text x="607.5" y="1578.6">心理科学部FD委員会</text><text x="607.5" y="1597.7">編入学運営委員会</text><text x="607.5" y="1616.8">紀要委員会</text><text x="607.5" y="1635.9">臨床心理学科実習員会</text><text x="607.5" y="1655">言語聴覚療法学科実習委員会</text><text x="607.5" y="1674.1" textLength="95" lengthAdjust="spacingAndGlyphs">ﾈｯﾄﾜｰｸ委員会</text><text x="607.5" y="1693.2" textLength="95" lengthAdjust="spacingAndGlyphs">ｾｷｭﾘﾃｨ委員会</text><text x="607.5" y="1712.3">倫理審査委員会</text><text x="607.5" y="1731.4">卒業試験対策委員会</text><text x="607.5" y="1750.5" textLength="169" lengthAdjust="spacingAndGlyphs">言語聴覚「治療室」委員会</text><text x="607.5" y="1769.6">防火管理委員会</text><text x="607.5" y="1788.7">就職委員会</text><text x="607.5" y="1807.8">心理科学部評価委員会</text>
</g>
<g id="l-reha">
<text class="k" x="827.5" y="1464">学部運営委員会</text><text class="k" x="827.5" y="1483.4">理学療法学科会議</text><text class="k" x="827.5" y="1502.7">作業療法学科会議</text><text class="k" x="827.5" y="1522.1">言語聴覚療法学科会議</text><text class="k" x="827.5" y="1541.4">教務委員会</text><text class="k" x="827.5" y="1560.8">学生委員会</text><text class="k" x="827.5" y="1580.1">ﾈｯﾄﾜｰｸ委員会</text><text class="k" x="827.5" y="1599.5">臨床実習委員会</text><text class="k" x="827.5" y="1618.8">編入学運営委員会</text><text class="k" x="827.5" y="1638.2">転学科運営委員会</text><text class="k" x="827.5" y="1657.5">評価委員会</text><text class="k" x="827.5" y="1676.9">就職委員会</text><text class="k" x="827.5" y="1696.2">国家試験対策委員会</text><text class="k" x="827.5" y="1715.6">倫理審査委員会</text><text class="k" x="827.5" y="1734.9" textLength="167" lengthAdjust="spacingAndGlyphs">ﾘﾊﾋﾞﾘﾃｰｼｮﾝ科学部FD委員会</text><text class="k" x="827.5" y="1755">地域連携調整委員会</text>
</g>
<g id="l-iryo">
<text class="k" x="1022" y="1464">学部運営委員会</text><text class="k" x="1022" y="1483.3">教員会議</text><text class="k" x="1022" y="1502.5">教務委員会</text><text class="k" x="1022" y="1521.8">学生委員会</text><text class="k" x="1022" y="1541">図書委員会</text><text class="k" x="1022" y="1560.3">就職委員会</text><text class="n" x="1022" y="1579.5" textLength="137" lengthAdjust="spacingAndGlyphs">教育設備機器・研究機器委員会</text><text class="k" x="1022" y="1598.8">臨床実習委員会</text><text class="k" x="1022" y="1618">ﾈｯﾄﾜｰｸ委員会</text><text class="n" x="1022" y="1637.3" textLength="137" lengthAdjust="spacingAndGlyphs">医療技術学部倫理審査委員会</text><text class="k" x="1022" y="1656.5">学部FD委員会</text><text class="k" x="1022" y="1675.8">国家試験対策委員会</text><text class="k" x="1022" y="1695">広報委員会</text><text class="k" x="1022" y="1714.3">評価委員会</text>
</g>
<g id="l-clinic"><text x="1233.3" y="1391">診療協議会</text><text x="1233.3" y="1410">ﾘｽｸﾏﾈｼﾞﾒﾝﾄ部会</text><text x="1233.3" y="1429.3">診療情報提供委員会</text></g>
<g id="l-hospital">
<text x="1202.7" y="1450">診療協議会</text><text x="1202.7" y="1469.3">医科部連絡調整会</text><text x="1202.7" y="1488.5">歯科部連絡調整会</text><text x="1202.7" y="1507.8">防火管理委員会</text><text x="1202.7" y="1527">ﾘｽｸﾏﾈｼﾞﾒﾝﾄ部会</text><text x="1202.7" y="1546.3">自己血輸血管理委員会</text><text x="1202.7" y="1565.5">手術ﾌﾛｱ管理運営委員会</text><text x="1202.7" y="1584.8">病棟管理運営委員会</text><text x="1202.7" y="1604">診療情報提供委員会</text><text x="1202.7" y="1623.3">歯科技工研修科運営委員会</text><text x="1202.7" y="1642.5">栄養管理委員会</text><text x="1202.7" y="1661.8">言語治療室運営委員会</text>
</g>
<g id="l-hospital-2">
<text x="1184.7" y="1715">医療安全管理委員会</text><text x="1184.7" y="1734.1">放射線安全管理委員会</text><text x="1184.7" y="1753.2">感染対策委員会</text><text x="1184.7" y="1772.3">治験審査委員会</text><text x="1184.7" y="1791.4">薬事委員会</text><text x="1184.7" y="1810.5" textLength="177" lengthAdjust="spacingAndGlyphs">医療機関運営効率化委員会</text><text x="1184.7" y="1829.6">医療保険委員会</text><text x="1184.7" y="1848.7">高度先進医療専門委員会</text><text x="1184.7" y="1867.8" textLength="177" lengthAdjust="spacingAndGlyphs">歯科医師臨床研修科運営委員会</text><text x="1184.7" y="1886.9" textLength="177" lengthAdjust="spacingAndGlyphs">医療機関個人情報保護管理委員会</text>
</g>
<g id="footer"><text x="1101" y="1941">※事務局：「XI 1 事務組織図・分掌」参照</text></g>
</svg>
